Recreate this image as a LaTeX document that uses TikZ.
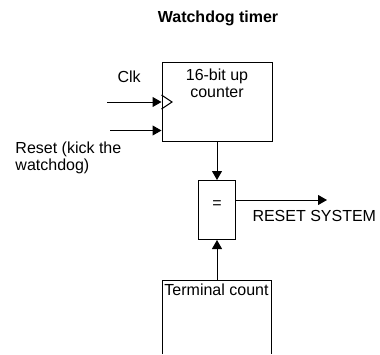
\documentclass[tikz,border=0pt]{standalone}
\usepackage{fontspec}
\setmainfont{Liberation Sans}
\usetikzlibrary{arrows.meta}
\begin{document}
\begin{tikzpicture}[x=1pt,y=-1pt,line width=1pt,
  arr/.style={-{Triangle[length=9pt,width=10pt]}},
  txt/.style={inner sep=0pt,font=\fontsize{16}{17}\selectfont},
  box/.style={draw,inner sep=0pt}]
\useasboundingbox (0,0) rectangle (380,354);
% title
\node[txt,font=\bfseries\fontsize{16}{17}\selectfont,anchor=base] (title) at (218,22.5) {Watchdog timer};
% counter
\node[box,minimum width=110pt,minimum height=79pt] (ctr) at (217,102) {};
\node[txt,align=center,anchor=north] (ctrtxt) at (217,68.3) {16-bit up\\counter};
\draw (ctr.west)+(0,-7) -- +(10.5,0) -- +(0,7);
% clock input
\node[txt,anchor=base west] (clk) at (117,82.5) {Clk};
\coordinate (clkin) at (107,102);
\draw[arr] (clkin) -- (ctr.west);
% reset input
\coordinate (rstin) at (110,130.5);
\draw[arr] (rstin) -- (rstin -| ctr.west);
\node[txt,align=left,anchor=north west] (rsttxt) at (15,141.3) {Reset (kick the\\watchdog)};
% comparator
\node[box,minimum width=37pt,minimum height=59pt] (eq) at (217,210) {};
\node[txt,anchor=base] (eqtxt) at (217,208) {=};
\draw[arr] (ctr.south) -- (eq.north);
% output
\coordinate (rsout) at (327,200);
\draw[arr] (eq.east |- rsout) -- (rsout);
\node[txt,anchor=base west] (rstsys) at (252,221.7) {RESET SYSTEM};
% terminal count
\coordinate (tl) at (162,354);
\coordinate (tr) at (271,354);
\coordinate (termtop) at (217,280);
\draw (tl) -- (tl |- termtop) -- (tr |- termtop) -- (tr);
\node[txt,anchor=base] (termtxt) at (216.5,295) {Terminal count};
\draw[arr] (termtop) -- (eq.south);
\end{tikzpicture}
\end{document}
